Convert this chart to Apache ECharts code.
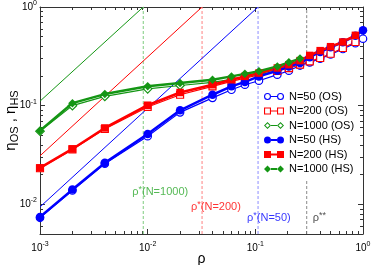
<!DOCTYPE html>
<html><head><meta charset="utf-8">
<script src="https://cdn.jsdelivr.net/npm/echarts@6/dist/echarts.min.js"></script>
<style>html,body{margin:0;padding:0;background:#fff}#c{width:374px;height:265px}</style>
</head><body><div id="c"></div>
<script>
// ---------- data ----------
const rho = [0.001,0.002,0.004,0.01,0.02,0.04,0.06,0.08,0.108,0.16,0.205,0.26,0.32,0.4,0.5,0.65,0.85,1.0];
const etaOS50   = [0.0073,0.0138,0.0258,0.049,0.0855,0.12,0.145,0.163,0.179,0.206,0.226,0.255,0.275,0.30,0.33,0.375,0.43,0.477];
const etaOS200  = [0.0232,0.036,0.058,0.097,0.129,0.157,0.176,0.19,0.205,0.225,0.24,0.26,0.281,0.304,0.336,0.384,0.442];
const etaOS1000 = [0.055,0.10,0.124,0.148,0.16,0.172,0.185,0.197,0.21,0.235,0.255,0.28];
const etaHS50   = [0.00745,0.0141,0.0263,0.0517,0.0896,0.129,0.157,0.174,0.198,0.226,0.25,0.27,0.31,0.35,0.39,0.44,0.51,0.58];
const etaHS200  = [0.0234,0.0364,0.0594,0.101,0.136,0.163,0.183,0.198,0.214,0.241,0.26,0.286,0.323,0.361,0.396,0.442,0.516];
const etaHS1000 = [0.0558,0.106,0.131,0.157,0.170,0.183,0.198,0.21,0.223,0.25,0.275,0.30];
const seriesNames = ['N=50 (OS)','N=200 (OS)','N=1000 (OS)','N=50 (HS)','N=200 (HS)','N=1000 (HS)'];
// overlap densities rho*(N) and rho**
const rhoStar = [0.0091, 0.032, 0.106];
const rhoStarLabels = ['(N=1000)','(N=200)','(N=50)'];
const rhoStarLabelEta = [0.0132, 0.0093, 0.0072];
const rhoStarStar = 0.3;
const rhoStarStarLabelEta = 0.0072;
const rhoStarStarGapEta = [0.0178, 0.27];
// thin guide lines: value at rho = 0.001, reaching 1 at rho*
const guideEtaAtMin = [0.111, 0.031, 0.0094];
const xRange = [0.001, 1];
const yRange = [0.005, 1];

// ---------- styles ----------
const BLUE = '#0000ff', RED = '#ff0000', GREEN = '#149614';
const colors = [BLUE, RED, GREEN];              // N=50, 200, 1000
const starColors = [GREEN, RED, BLUE];          // rhoStar order: N=1000, 200, 50
const starDash = ['#7fcc7f', '#ff8080', '#8c8cff'];
const starText = ['#2aa82a', RED, BLUE];
const FONT = 'Liberation Sans, Arial, Helvetica, sans-serif';
const pair = (xs, ys) => ys.map((y, i) => [xs[i], y]);

function pow10Label(v) {
  const e = Math.log10(v), r = Math.round(e);
  if (Math.abs(e - r) > 1e-6) return '';
  return '{b|10}{s|' + r + '}';
}
const labelRich = {
  b: {fontSize: 10, lineHeight: 11, fontFamily: FONT, color: '#000'},
  s: {fontSize: 7, lineHeight: 7, padding: [0, 0, 8, 0], fontFamily: FONT, color: '#000'}
};
const AX = '#333';
function baseAxis(extra) {
  return Object.assign({
    type: 'log', logBase: 10,
    axisLine: {show: true, lineStyle: {color: AX, width: 1}},
    axisTick: {show: true, inside: true, length: 5, lineStyle: {color: AX}},
    minorTick: {show: true, splitNumber: 9, length: 3, lineStyle: {color: AX, width: 1}},
    splitLine: {show: false}, minorSplitLine: {show: false}
  }, extra);
}

// legend icons
function ring(cx) {
  return 'M' + (cx - 3.5) + ',3.5 A3.5,3.5 0 1,1 ' + (cx + 3.5) + ',3.5 A3.5,3.5 0 1,1 ' + (cx - 3.5) + ',3.5 Z ' +
         'M' + (cx - 2.4) + ',3.5 A2.4,2.4 0 1,0 ' + (cx + 2.4) + ',3.5 A2.4,2.4 0 1,0 ' + (cx - 2.4) + ',3.5 Z ';
}
function disc(cx) {
  return 'M' + (cx - 3.5) + ',3.5 A3.5,3.5 0 1,1 ' + (cx + 3.5) + ',3.5 A3.5,3.5 0 1,1 ' + (cx - 3.5) + ',3.5 Z ';
}
function sqOpen(x0) {
  return 'M' + x0 + ',0 H' + (x0 + 7) + ' V7 H' + x0 + ' Z M' + (x0 + 1.1) + ',1.1 V5.9 H' + (x0 + 5.9) + ' V1.1 Z ';
}
function sqFill(x0) { return 'M' + x0 + ',0 H' + (x0 + 7) + ' V7 H' + x0 + ' Z '; }
function diaOpen(cx) {
  return 'M' + cx + ',0 L' + (cx + 3.5) + ',3.5 L' + cx + ',7 L' + (cx - 3.5) + ',3.5 Z M' + cx + ',1.4 L' + (cx - 2.1) + ',3.5 L' + cx + ',5.6 L' + (cx + 2.1) + ',3.5 Z ';
}
function diaFill(cx) { return 'M' + cx + ',0 L' + (cx + 3.5) + ',3.5 L' + cx + ',7 L' + (cx - 3.5) + ',3.5 Z '; }
const thinBar = 'M7,3 H13 V4 H7 Z';
const thickBar = 'M7,2.5 H13 V4.5 H7 Z';
const legendIcons = [
  'path://' + ring(3.5) + ring(16.5) + thinBar,
  'path://' + sqOpen(0) + sqOpen(13) + thinBar,
  'path://' + diaOpen(3.5) + diaOpen(16.5) + thinBar,
  'path://' + disc(3.5) + disc(16.5) + thickBar,
  'path://' + sqFill(0) + sqFill(13) + thickBar,
  'path://' + diaFill(3.5) + diaFill(16.5) + thickBar
];

// ---------- series ----------
const series = [];
rhoStar.forEach((rs, i) => {
  series.push({type: 'line', name: 'guide' + i, data: [[xRange[0], guideEtaAtMin[i]], [rs, 1]],
    symbol: 'none', lineStyle: {color: starColors[i], width: 1}, silent: true, z: 1});
  series.push({type: 'line', name: 'rhostar' + i, data: [[rs, yRange[0]], [rs, yRange[1]]],
    symbol: 'none', lineStyle: {color: starDash[i], width: 1, type: [3, 2]}, silent: true, z: 1});
});
series.push({type: 'line', name: 'rhoss1', data: [[rhoStarStar, rhoStarStarGapEta[1]], [rhoStarStar, yRange[1]]],
  symbol: 'none', lineStyle: {color: '#8a8a8a', width: 1, type: [3, 2]}, silent: true, z: 1});
series.push({type: 'line', name: 'rhoss2', data: [[rhoStarStar, yRange[0]], [rhoStarStar, rhoStarStarGapEta[0]]],
  symbol: 'none', lineStyle: {color: '#8a8a8a', width: 1, type: [3, 2]}, silent: true, z: 1});

const osData = [etaOS50, etaOS200, etaOS1000];
const hsData = [etaHS50, etaHS200, etaHS1000];
const syms = ['circle', 'rect', 'diamond'];
const osSize = [7.5, 7, 8.5], hsSize = [8.5, 7.5, 8.5];
osData.forEach((d, i) => {
  series.push({type: 'line', name: seriesNames[i], data: pair(rho, d), symbol: syms[i], symbolSize: osSize[i],
    showAllSymbol: true, itemStyle: {color: '#fff', borderColor: colors[i], borderWidth: 1.2},
    lineStyle: {color: colors[i], width: 1.2}, z: 3});
});
hsData.forEach((d, i) => {
  series.push({type: 'line', name: seriesNames[i + 3], data: pair(rho, d), symbol: syms[i], symbolSize: hsSize[i],
    showAllSymbol: true, itemStyle: {color: colors[i]},
    lineStyle: {color: colors[i], width: 2.5}, z: 4});
});
// annotation labels
function annRich(c) {
  return {
    r: {fontSize: 11, lineHeight: 12, fontFamily: FONT, color: c},
    s: {fontSize: 9, lineHeight: 9, padding: [0, 0, 6, 0], fontFamily: FONT, color: c}
  };
}
const annData = rhoStar.map((rs, i) => ({
  value: [rs, rhoStarLabelEta[i]],
  label: {formatter: '{r|ρ}{s|*}{r|' + rhoStarLabels[i] + '}', offset: [-11, 0], rich: annRich(starText[i])}
}));
annData.push({value: [rhoStarStar, rhoStarStarLabelEta],
  label: {formatter: '{r|ρ}{s|**}', offset: [6, 0], rich: annRich('#222')}});
series.push({type: 'scatter', name: 'annot', data: annData, symbolSize: 0, silent: true, z: 5,
  label: {show: true, position: 'inside', align: 'left', verticalAlign: 'middle'}});

const option = {
  animation: false,
  backgroundColor: '#fff',
  textStyle: {fontFamily: FONT},
  grid: {left: 40, right: 11, top: 7, bottom: 31, containLabel: false, outerBoundsMode: 'none'},
  legend: {
    orient: 'vertical', left: 264, top: 91, padding: 0, itemGap: 3.5,
    itemWidth: 20, itemHeight: 7,
    textStyle: {fontSize: 11, color: '#000', fontFamily: FONT},
    data: seriesNames.map((n, i) => ({name: n, icon: legendIcons[i],
      itemStyle: {color: colors[i % 3], borderWidth: 0, borderColor: colors[i % 3]}}))
  },
  xAxis: [
    baseAxis({min: xRange[0], max: xRange[1], position: 'bottom',
      name: 'ρ', nameLocation: 'middle', nameGap: 18, nameMoveOverlap: false,
      nameTextStyle: {fontSize: 14, color: '#000', fontFamily: FONT},
      axisLabel: {formatter: pow10Label, rich: labelRich, margin: 9}}),
    baseAxis({min: xRange[0], max: xRange[1], position: 'top', axisLabel: {show: false}})
  ],
  yAxis: [
    baseAxis({min: yRange[0], max: yRange[1], position: 'left',
      name: '{e|η}{u|OS}{e| , η}{u|HS}', nameLocation: 'middle', nameGap: 21, nameRotate: 90, nameMoveOverlap: false,
      nameTextStyle: {rich: {
        e: {fontSize: 15, lineHeight: 16, fontFamily: FONT, color: '#000'},
        u: {fontSize: 11, lineHeight: 11, padding: [7, 0, 0, 0], fontFamily: FONT, color: '#000'}
      }},
      axisLabel: {formatter: pow10Label, rich: labelRich, margin: 3}}),
    baseAxis({min: yRange[0], max: yRange[1], position: 'right', axisLabel: {show: false}})
  ],
  series: series
};
const chart = echarts.init(document.getElementById('c'), null, {renderer: 'canvas'});
chart.setOption(option);
</script></body></html>
